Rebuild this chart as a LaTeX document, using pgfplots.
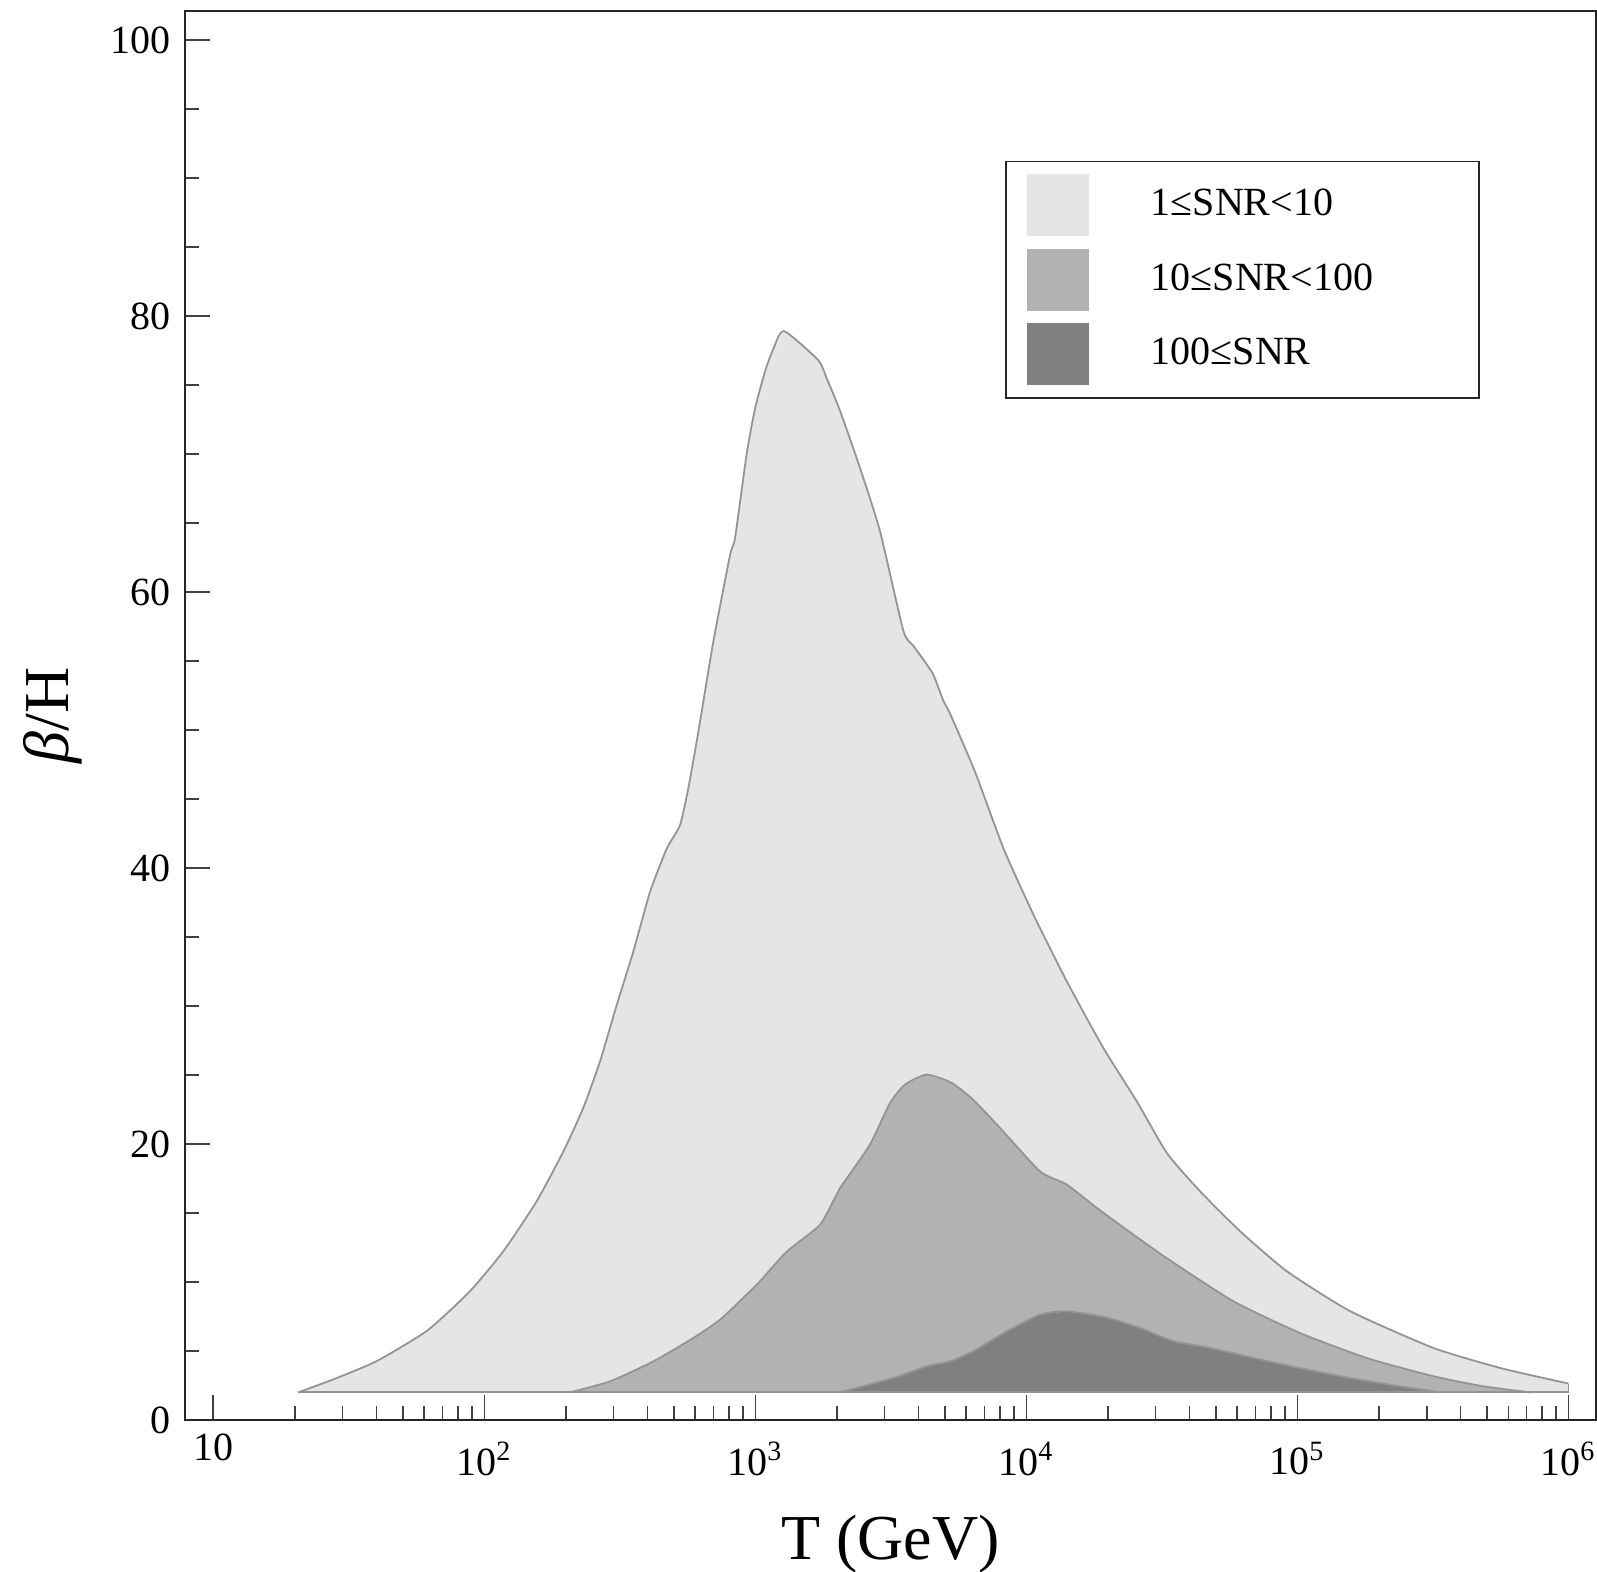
\documentclass[border=0pt]{standalone}
\usepackage{fontspec}
\setmainfont{Liberation Serif}
\usepackage{pgfplots}
\pgfplotsset{compat=1.18}
\definecolor{cLight}{gray}{0.898}
\definecolor{cMid}{gray}{0.70}
\definecolor{cDark}{gray}{0.50}
\definecolor{cLine}{gray}{0.58}
\newcommand{\dl}[1]{\raisebox{0pt}[\dimexpr\height+2pt\relax]{10\textsuperscript{#1}}}
\begin{document}
\begin{tikzpicture}
\useasboundingbox (-46.25pt,-38pt) rectangle (353pt,355pt);
\begin{axis}[
  at={(0pt,0pt)}, anchor=south west,
  scale only axis, width=352.7pt, height=352.25pt,
  xmode=log, log basis x=10,
  xmin=7.865, xmax=1.262e6, ymin=0, ymax=102.1,
  axis line style={black!85, line width=0.45pt},
  tick align=inside, tick pos=left,
  major tick length=6.25pt, minor tick length=3.4pt,
  every tick/.style={black!75, line width=0.4pt},
  xtick={10,100,1000,10000,1e5,1e6},
  xticklabels={10,\dl{2},\dl{3},\dl{4},\dl{5},\dl{6}},
  minor xtick={20,30,40,50,60,70,80,90,200,300,400,500,600,700,800,900,2000,3000,4000,5000,6000,7000,8000,9000,2e4,3e4,4e4,5e4,6e4,7e4,8e4,9e4,2e5,3e5,4e5,5e5,6e5,7e5,8e5,9e5},
  ytick={0,20,40,60,80,100},
  yticklabels={0,20,40,60,80,100},
  minor ytick={5,10,15,25,30,35,45,50,55,65,70,75,85,90,95},
  tick label style={font=\fontsize{10}{12}\selectfont},
  xlabel={T (GeV)},
  ylabel={\textit{β}/H},
  label style={font=\fontsize{16}{19}\selectfont},
  xlabel style={at={(axis description cs:0.5,0)}, anchor=north, yshift=-23.6pt, inner sep=0pt},
  ylabel style={at={(axis description cs:-0.0936,0.5)}, anchor=center},
  legend image code/.code={\fill[#1,draw=none] (0pt,-7.75pt) rectangle (15.5pt,7.75pt);},
  legend style={at={(rel axis cs:0.5812,0.8938)}, anchor=north west,
    draw=black!85, line width=0.45pt, inner xsep=5.25pt, inner ysep=3.2pt,
    row sep=3.1pt, column sep=15.5pt,
    nodes={inner sep=0pt, anchor=west},
    font=\fontsize{10}{12}\selectfont},
]
% ---------- fills ----------
\addplot[fill=cLight, draw=none] coordinates {
 (20.6,2.0) (28.2,3.0) (40.2,4.28) (61.7,6.49) (88.5,9.33)
 (117.5,12.22) (156.0,15.85) (195.9,19.47) (231.7,22.61) (267.3,25.99)
 (308.3,30.1) (354.8,33.96) (409.3,38.3) (471,41.4) (527.2,43.1)
 (566.2,45.8) (616.6,49.9) (699.8,56.4) (807.2,62.7) (841.4,63.9) (929,70.0)
 (997.7,73.3) (1086.4,76.0) (1164.1,77.6) (1276.4,78.9) (1706.0,76.8)
 (1832.3,75.5) (2055.8,73.1) (2432.2,69.0) (2884,64.4) (3515.6,57.2)
 (3828.1,56.1) (4168.7,55.1) (4539.4,54.0) (4943.1,52.1) (5224.4,51.2)
 (6456.5,47.0) (8222.4,41.45) (10617,36.62) (14093,31.79) (19231,26.96)
 (25527,23.1) (33113,19.3) (43752,16.57) (61518,13.67) (91411,10.78)
 (156675,7.88) (317687,5.22) (559757,3.77) (1000000,2.64) (1000000,2.0)
 (20.6,2.0)
};
\addlegendentry{\makebox[76.7pt][l]{1≤SNR<10}}
\addplot[fill=cMid, draw=none] coordinates {
 (207,2.0) (291.1,2.80) (420.7,4.25) (590.2,5.94) (741.3,7.27) (929,9.09)
 (1039.9,10.05) (1306.2,12.2) (1733.8,14.16) (2051.2,16.8) (2172.7,17.5)
 (2648.5,19.96) (3140.5,22.97) (3564.5,24.3) (4285.5,25.03) (5308.8,24.42)
 (6367.9,23.2) (7998.3,21.16) (11246,18.0) (14093,17.06) (18967,15.1)
 (31989,11.9) (58076,8.6) (102329,6.3) (180302,4.49) (317687,3.17)
 (485289,2.44) (703072,2.03) (724436,2.0) (207,2.0)
};
\addlegendentry{\makebox[76.7pt][l]{10≤SNR<100}}
\addplot[fill=cDark, draw=none] coordinates {
 (2051.2,2.0) (3228.5,3.04) (4285.5,3.89) (5224.4,4.25) (6367.9,4.98)
 (8472.4,6.43) (11246,7.64) (14093,7.88) (19498,7.45) (26303,6.67)
 (31117,6.07) (35892,5.65) (47643,5.22) (88716,4.01) (156675,3.04)
 (239332,2.44) (317687,2.08) (331131,2.0) (2051.2,2.0)
};
\addlegendentry{\makebox[76.7pt][l]{100≤SNR}}
% ---------- outlines ----------
\addplot[draw=cLine, line width=0.45pt, forget plot, smooth, tension=0.35] coordinates {
 (20.6,2.0) (28.2,3.0) (40.2,4.28) (61.7,6.49) (88.5,9.33)
 (117.5,12.22) (156.0,15.85) (195.9,19.47) (231.7,22.61) (267.3,25.99)
 (308.3,30.1) (354.8,33.96) (409.3,38.3) (471,41.4) (527.2,43.1)
 (566.2,45.8) (616.6,49.9) (699.8,56.4) (807.2,62.7) (841.4,63.9) (929,70.0)
 (997.7,73.3) (1086.4,76.0) (1164.1,77.6) (1276.4,78.9) (1706.0,76.8)
 (1832.3,75.5) (2055.8,73.1) (2432.2,69.0) (2884,64.4) (3515.6,57.2)
 (3828.1,56.1) (4168.7,55.1) (4539.4,54.0) (4943.1,52.1) (5224.4,51.2)
 (6456.5,47.0) (8222.4,41.45) (10617,36.62) (14093,31.79) (19231,26.96)
 (25527,23.1) (33113,19.3) (43752,16.57) (61518,13.67) (91411,10.78)
 (156675,7.88) (317687,5.22) (559757,3.77) (1000000,2.64)
};
\addplot[draw=cLine, line width=0.45pt, forget plot] coordinates {(1000000,2.64) (1000000,2.0) (20.6,2.0)};
\addplot[draw=cLine, line width=0.45pt, forget plot, smooth, tension=0.35] coordinates {
 (207,2.0) (291.1,2.80) (420.7,4.25) (590.2,5.94) (741.3,7.27) (929,9.09)
 (1039.9,10.05) (1306.2,12.2) (1733.8,14.16) (2051.2,16.8) (2172.7,17.5)
 (2648.5,19.96) (3140.5,22.97) (3564.5,24.3) (4285.5,25.03) (5308.8,24.42)
 (6367.9,23.2) (7998.3,21.16) (11246,18.0) (14093,17.06) (18967,15.1)
 (31989,11.9) (58076,8.6) (102329,6.3) (180302,4.49) (317687,3.17)
 (485289,2.44) (703072,2.03) (724436,2.0)
};
\addplot[draw=cLine, line width=0.45pt, forget plot, smooth, tension=0.35] coordinates {
 (2051.2,2.0) (3228.5,3.04) (4285.5,3.89) (5224.4,4.25) (6367.9,4.98)
 (8472.4,6.43) (11246,7.64) (14093,7.88) (19498,7.45) (26303,6.67)
 (31117,6.07) (35892,5.65) (47643,5.22) (88716,4.01) (156675,3.04)
 (239332,2.44) (317687,2.08) (331131,2.0)
};
\end{axis}
\end{tikzpicture}
\end{document}
